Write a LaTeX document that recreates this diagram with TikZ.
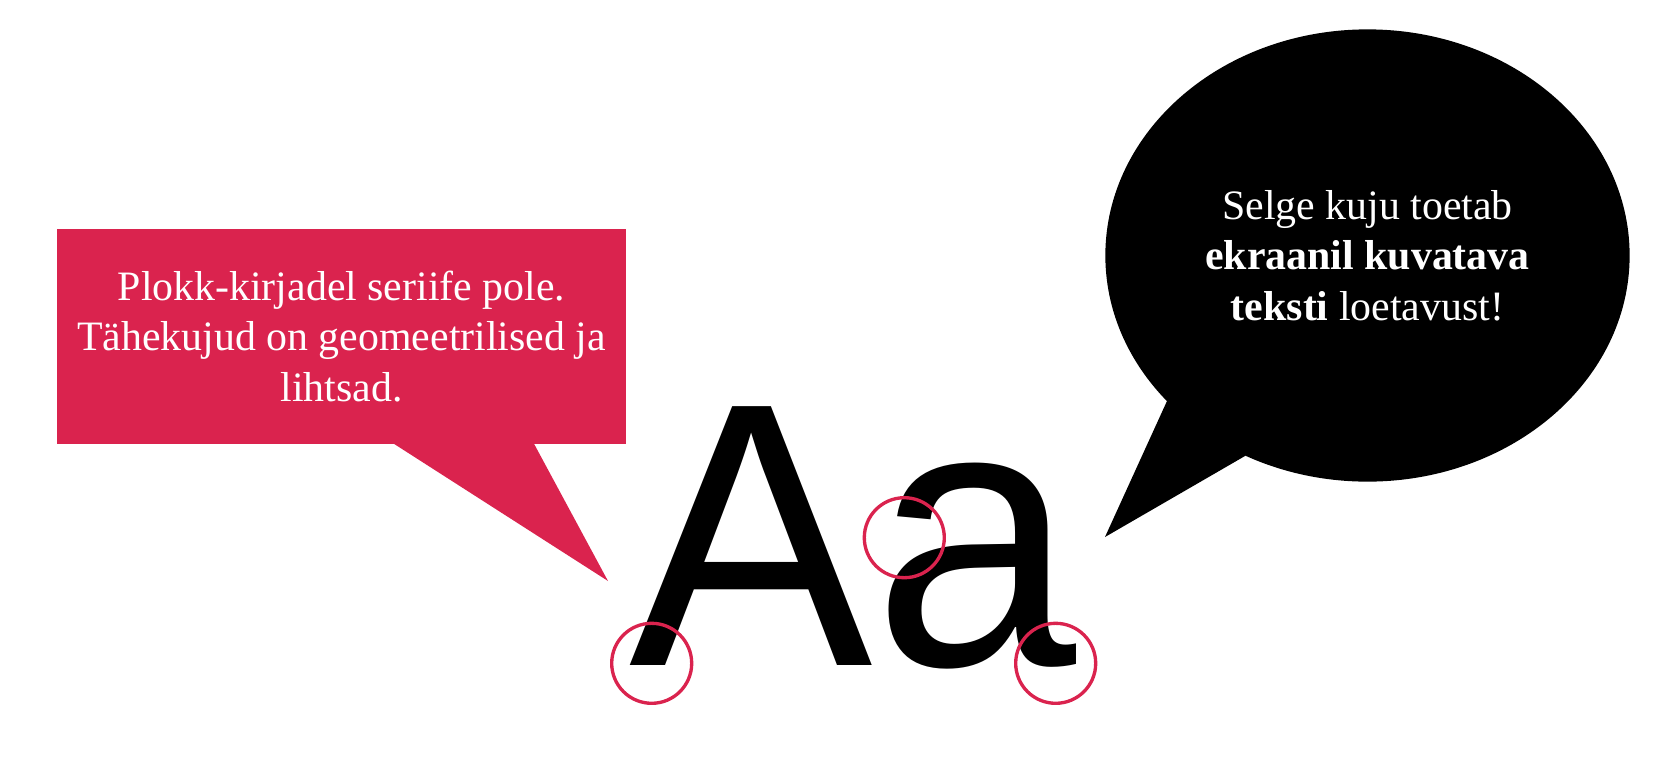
\documentclass[tikz,border=0pt]{standalone}
\usepackage{fontspec}
\setmainfont{Liberation Serif}
\newfontfamily\grotesk{Liberation Sans}
\usetikzlibrary{shapes.geometric}
\definecolor{kirjapunane}{RGB}{218,35,78}

\begin{document}
\begin{tikzpicture}[x=0.01cm,y=-0.01cm,
  jutt/.style={text=white,align=center,inner sep=0pt,font=\fontsize{11.9}{14.4}\selectfont},
  ring/.style={draw=kirjapunane,line width=0.95pt}]
\useasboundingbox (0,0) rectangle (1656,760);

% punane mull
\node[jutt,fill=kirjapunane,minimum width=5.69cm,minimum height=2.15cm] (plokk) at (341.5,336.5)
  {Plokk-kirjadel seriife pole.\\ Tähekujud on geomeetrilised ja\\ lihtsad.};
\fill[kirjapunane] (388,440) -- (608,581) -- (532,440) -- cycle;

% must mull
\fill (1167,401) -- (1105,537) -- (1245,456) -- (1367,300) -- cycle;
\node[jutt,ellipse,fill=black,minimum width=5.24cm,minimum height=4.52cm] (selge) at (1367.5,255.5)
  {Selge kuju toetab\\ \textbf{ekraanil kuvatava}\\ \textbf{teksti} loetavust!};

\node[anchor=base west,inner sep=0pt,font=\grotesk\fontsize{107}{110}\selectfont] (tahed) at (629,665) {\scalebox{0.97}[1]{Aa}};

\foreach \p in {(651.7,663.3),(904.3,537.7),(1055.7,663.3)}
  \draw[ring] \p circle[radius=40];
\end{tikzpicture}
\end{document}
